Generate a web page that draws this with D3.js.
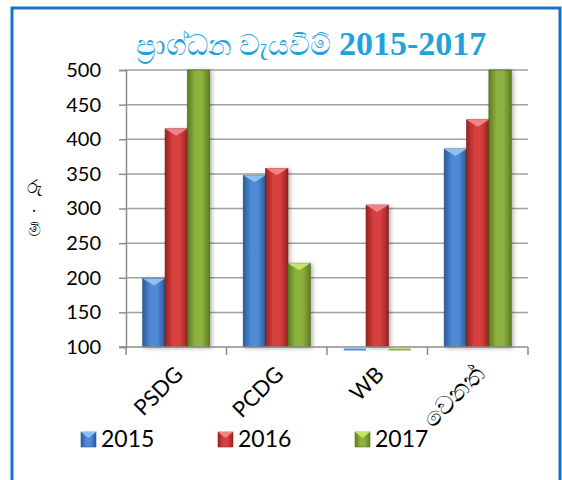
<!DOCTYPE html>
<html>
<head>
<meta charset="utf-8">
<script src="https://cdn.jsdelivr.net/npm/d3@7"></script>
<style>
  body { margin: 0; background: #fff; }
  text { font-family: Lato, "Noto Sans", sans-serif; }
</style>
</head>
<body>
<div id="chart"></div>
<script>
var categories = ["PSDG", "PCDG", "WB", "වෙනත්"];
var years = ["2015", "2016", "2017"];
var values2015 = [199, 348, 0, 386];
var values2016 = [415, 358, 305, 428];
var values2017 = [500, 221, 0, 500];
var yTicks = [100, 150, 200, 250, 300, 350, 400, 450, 500];
var yTitle = ["රු", "•", "මි"];

var series = [
  {name: years[0], values: values2015, mid: "#4f8ad6", edge: "#2b5c9c", top: "#8fc0f2"},
  {name: years[1], values: values2016, mid: "#d8403f", edge: "#982222", top: "#f08484"},
  {name: years[2], values: values2017, mid: "#8db23f", edge: "#5d7d22", top: "#c8e468"}
];

var W = 562, H = 480;
var svg = d3.select("#chart").append("svg")
    .attr("width", W)
    .attr("height", H);

var defs = svg.append("defs");
series.forEach(function(s, i) {
  var g = defs.append("linearGradient").attr("id", "grad" + i)
    .attr("x1", "0").attr("x2", "1").attr("y1", "0").attr("y2", "0");
  g.append("stop").attr("offset", "0%").attr("stop-color", s.edge);
  g.append("stop").attr("offset", "35%").attr("stop-color", s.mid);
  g.append("stop").attr("offset", "65%").attr("stop-color", s.mid);
  g.append("stop").attr("offset", "100%").attr("stop-color", s.edge);
});
var shadow = defs.append("filter").attr("id", "shadow")
  .attr("x", "-30%").attr("y", "-10%").attr("width", "160%").attr("height", "130%");
shadow.append("feDropShadow").attr("dx", 2).attr("dy", 1).attr("stdDeviation", 2)
  .attr("flood-color", "#000").attr("flood-opacity", 0.3);

// frame
svg.append("path")
  .attr("d", "M12,480 L12,8 L560,8 L560,480")
  .attr("fill", "none")
  .attr("stroke", "#1572c4")
  .attr("stroke-width", 3);

// title
var title = svg.append("text")
  .attr("x", 311).attr("y", 55)
  .attr("text-anchor", "middle")
  .attr("fill", "#1fa2de");
title.append("tspan")
  .style("font-family", "'Noto Sans', sans-serif")
  .style("font-size", "29px")
  .style("font-weight", "500")
  .text("ප්‍රාග්ධන වැයවීම් ");
title.append("tspan")
  .style("font-family", "'Liberation Serif', serif")
  .style("font-weight", "bold")
  .style("font-size", "34px")
  .text("2015-2017");

var x0 = 126, x1 = 528, yTop = 70, yBot = 347;

var x = d3.scaleBand()
  .domain(categories)
  .range([x0, x1])
  .paddingInner(0.333)
  .paddingOuter(0.1667);
var xs = d3.scaleBand()
  .domain(years)
  .range([0, x.bandwidth()]);
var y = d3.scaleLinear()
  .domain([100, 500])
  .range([yBot, yTop])
  .clamp(true);

// grid
svg.append("g").selectAll("line")
  .data(yTicks.slice(1))
  .join("line")
    .attr("x1", x0).attr("x2", x1)
    .attr("y1", function(d) { return y(d); })
    .attr("y2", function(d) { return y(d); })
    .attr("stroke", "#a0a0a0")
    .attr("stroke-width", 1.5);

// y axis
var yAxis = svg.append("g")
  .attr("transform", "translate(" + x0 + ",0)")
  .call(d3.axisLeft(y).tickValues(yTicks).tickSize(7).tickPadding(18));
yAxis.selectAll("path, line").attr("stroke", "#8c8c8c").attr("stroke-width", 1.5);
yAxis.selectAll("text")
  .style("font-family", "Lato, sans-serif")
  .style("font-size", "20px")
  .attr("fill", "#000");

// bars
var groups = svg.append("g").selectAll("g")
  .data(series)
  .join("g");
groups.each(function(s, si) {
  var g = d3.select(this);
  s.values.forEach(function(v, ci) {
    var bx = x(categories[ci]) + xs(s.name);
    var bw = xs.bandwidth();
    if (v <= 100) {
      g.append("rect")
        .attr("x", bx).attr("y", yBot + 1.5)
        .attr("width", bw).attr("height", 2)
        .attr("fill", s.mid);
      return;
    }
    var by = y(v);
    g.append("rect")
      .attr("x", bx).attr("y", by)
      .attr("width", bw).attr("height", yBot - by)
      .attr("fill", "url(#grad" + si + ")")
      .attr("stroke", d3.color(s.edge).darker(0.8))
      .attr("stroke-width", 0.6)
      .attr("filter", "url(#shadow)");
    if (v < 500) {
      g.append("path")
        .attr("d", "M" + bx + "," + by + " L" + (bx + bw) + "," + by +
                   " L" + (bx + bw / 2) + "," + (by + 7) + " Z")
        .attr("fill", s.top);
    }
  });
});

// x axis
var xAxis = svg.append("g")
  .attr("transform", "translate(0," + yBot + ")");
xAxis.append("line")
  .attr("x1", x0 - 7).attr("x2", x1)
  .attr("stroke", "#8c8c8c").attr("stroke-width", 1.5);
var bounds = categories.map(function(c) { return x(c) - x.step() * x.paddingInner() / 2; });
bounds.push(x1);
xAxis.selectAll(".tk")
  .data(bounds)
  .join("line")
    .attr("x1", function(d) { return d; })
    .attr("x2", function(d) { return d; })
    .attr("y1", 0).attr("y2", 8)
    .attr("stroke", "#8c8c8c").attr("stroke-width", 1.5);
svg.append("g").selectAll("text")
  .data(categories)
  .join("text")
    .attr("transform", function(d) {
      return "translate(" + (x(d) + x.bandwidth() / 2 + 8) + "," + 376 + ") rotate(-45)";
    })
    .attr("text-anchor", "end")
    .style("font-size", function(d, i) { return i === 3 ? "25px" : "22px"; })
    .style("font-family", function(d, i) { return i === 3 ? "'Noto Sans', sans-serif" : "Lato, sans-serif"; })
    .text(function(d) { return d; });

// y title, stacked upright
var yt = svg.append("text")
  .attr("text-anchor", "middle")
  .style("font-family", "'Noto Sans', sans-serif")
  .attr("fill", "#000");
yt.selectAll("tspan")
  .data(yTitle)
  .join("tspan")
    .attr("x", 34)
    .attr("y", function(d, i) { return [193, 214, 236][i]; })
    .style("font-size", function(d, i) { return i === 1 ? "8px" : "18px"; })
    .text(function(d) { return d; });

// legend
var legend = svg.append("g").selectAll("g")
  .data(series)
  .join("g")
    .attr("transform", function(d, i) { return "translate(" + [81, 218, 355][i] + ",432)"; });
legend.append("rect")
  .attr("width", 15).attr("height", 15)
  .attr("fill", function(d, i) { return "url(#grad" + i + ")"; })
  .attr("stroke", function(d) { return d.edge; })
  .attr("stroke-width", 0.6);
legend.append("path")
  .attr("d", "M0,0 L15,0 L7.5,6 Z")
  .attr("fill", function(d) { return d.top; });
legend.append("text")
  .attr("x", 20).attr("y", 15)
  .style("font-size", "23px")
  .text(function(d) { return d.name; });
</script>
</body>
</html>
